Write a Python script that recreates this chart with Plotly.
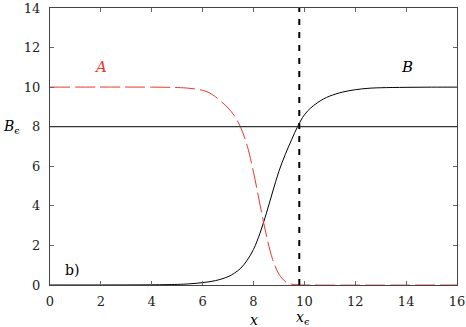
import plotly.graph_objects as go

# Curva B (negra, continua)
b_x = [0, 4, 5, 5.5, 6, 6.5, 7, 7.25, 7.5, 7.75, 8, 8.25, 8.5, 8.75, 9, 9.25, 9.5,
       9.75, 10, 10.25, 10.5, 10.75, 11, 11.5, 12, 12.5, 13, 14, 15, 16]
b_y = [0, 0.01, 0.03, 0.06, 0.12, 0.22, 0.42, 0.6, 0.85, 1.25, 1.8, 2.6, 3.6, 4.7,
       5.75, 6.6, 7.35, 8.05, 8.6, 8.95, 9.2, 9.4, 9.55, 9.75, 9.87, 9.94, 9.97,
       9.99, 10, 10]

# Curva A (roja, discontinua)
a_x = [0, 4, 5, 5.5, 6, 6.25, 6.5, 6.75, 7, 7.25, 7.5, 7.75, 8, 8.25, 8.5, 8.75,
       9, 9.25, 9.5, 9.75, 10, 16]
a_y = [10, 10, 9.98, 9.94, 9.84, 9.72, 9.52, 9.25, 8.95, 8.55, 7.95, 7.05, 5.7, 4.1,
       2.55, 1.3, 0.55, 0.18, 0.04, 0.01, 0, 0]

b_eps = 8
x_eps = 9.8

FONT = "DejaVu Serif"

fig = go.Figure()

fig.add_trace(go.Scatter(x=b_x, y=b_y, mode="lines",
                         line=dict(color="black", width=1, shape="spline", smoothing=1)))
fig.add_trace(go.Scatter(x=a_x, y=a_y, mode="lines",
                         line=dict(color="#e8372e", width=1, dash="20px,5px",
                                   shape="spline", smoothing=1)))

# linea horizontal B_eps y vertical x_eps
fig.add_shape(type="line", x0=0, x1=16, y0=b_eps, y1=b_eps,
              line=dict(color="#333333", width=1.2))
fig.add_shape(type="line", x0=x_eps, x1=x_eps, y0=0, y1=1, yref="paper",
              line=dict(color="black", width=2, dash="6px,7px"))

fig.add_annotation(x=2, y=11, text="<i>A</i>", showarrow=False,
                   font=dict(family=FONT, size=15, color="#e8372e"))
fig.add_annotation(x=14.05, y=11, text="<i>B</i>", showarrow=False,
                   font=dict(family=FONT, size=15, color="black"))
fig.add_annotation(x=0.85, y=0.75, text="b)", showarrow=False,
                   font=dict(family=FONT, size=14, color="black"))
fig.add_annotation(x=-0.12, xref="paper", xanchor="left", y=b_eps,
                   text="<i>B</i><sub>ϵ</sub>",
                   showarrow=False, font=dict(family=FONT, size=14, color="black"))
fig.add_annotation(x=x_eps + 0.15, y=-0.12, yref="paper", yanchor="middle",
                   text="<i>x</i><sub>ϵ</sub>",
                   showarrow=False, font=dict(family=FONT, size=14, color="black"))
fig.add_annotation(x=8, y=-0.125, yref="paper", yanchor="middle", text="<i>x</i>",
                   showarrow=False, font=dict(family=FONT, size=14, color="black"))

axis_comun = dict(
    showgrid=False, zeroline=False, showline=True, linecolor="#444444", linewidth=1,
    mirror="ticks", ticks="inside", ticklen=4, tickcolor="#666666", automargin=False,
    ticklabeloverflow="allow",
    tickfont=dict(family=FONT, size=13, color="#222222"),
)

fig.update_layout(
    width=466, height=327,
    margin=dict(l=50, r=9, t=8, b=42),
    plot_bgcolor="white", paper_bgcolor="white",
    showlegend=False,
    font=dict(family=FONT),
    xaxis=dict(range=[0, 16], dtick=2, ticklabelstandoff=4, **axis_comun),
    yaxis=dict(range=[0, 14], dtick=2, ticklabelstandoff=6, **axis_comun),
)

# sin margen del body para que la figura empiece en (0, 0)
fig.write_html("out.html", config={"displayModeBar": False},
               post_script="document.body.style.margin='0';")
